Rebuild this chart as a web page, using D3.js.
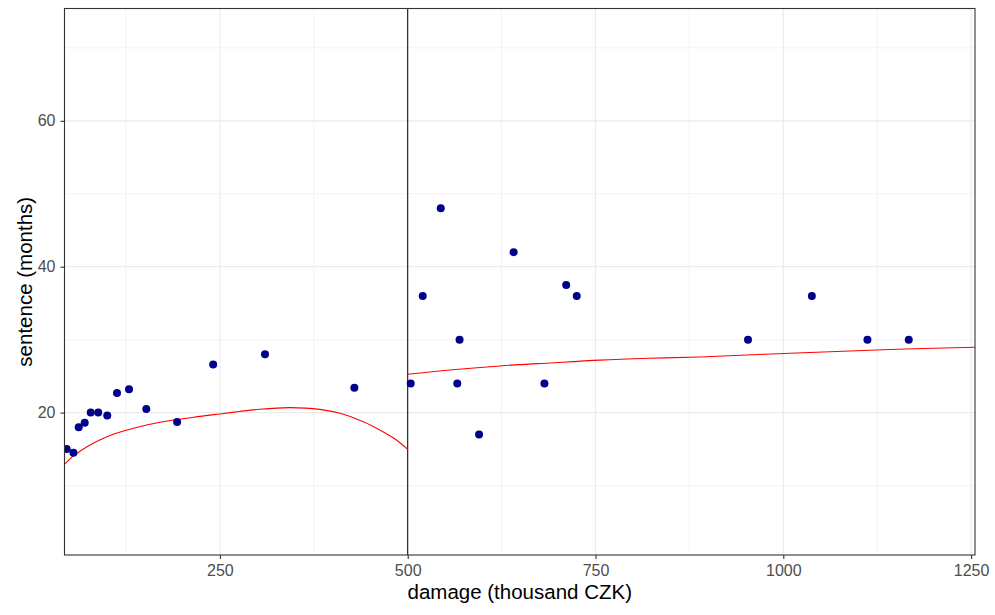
<html>
<head>
<style>
  body { margin: 0; background: #fff; }
  text { font-family: "Liberation Sans", Arial, sans-serif; }
</style>
</head>
<body>
<svg id="plot"></svg>
<script src="https://d3js.org/d3.v7.min.js"></script>
<script>

// observed cases: damage (thousand CZK) and sentence (months)
var damage = [46, 55, 62, 70, 78, 88, 100, 113, 129, 152, 193, 241, 310, 429,
              504, 520, 544, 566, 569, 595, 641, 682, 711, 725, 953, 1038, 1112, 1167];
var sentence = [15, 14.5, 18, 18.6, 20, 20, 19.6, 22.7, 23.2, 20.5, 18.7, 26.6, 28, 23.4,
                24, 36, 48, 24, 30, 17, 42, 24, 37.5, 36, 30, 36, 30, 30];

// fitted curve below the 500 threshold
var fitLeftX = [43, 55, 73, 90, 108, 135, 170, 215, 250, 276, 303, 343, 383, 410, 441, 467, 485, 500];
var fitLeftY = [12.9, 14.06, 15.33, 16.25, 17.03, 17.85, 18.68, 19.36, 19.82, 20.15, 20.46, 20.68, 20.45, 19.91, 18.76, 17.39, 16.25, 14.95];

// fitted curve above the threshold
var fitRightX = [500, 556, 623, 689, 756, 822, 889, 1009, 1142, 1255];
var fitRightY = [25.26, 25.85, 26.4, 26.81, 27.2, 27.45, 27.63, 28.14, 28.65, 28.96];

var threshold = 500;
var xTicks = [250, 500, 750, 1000, 1250];
var xMinor = [125, 375, 625, 875, 1125];
var yTicks = [20, 40, 60];
var yMinor = [10, 30, 50, 70];

var screen = {width: 995, height: 615};
var panel = {left: 64.5, right: 975, top: 8.5, bottom: 555};

var svg = d3.select("#plot")
    .attr("width", screen.width)
    .attr("height", screen.height);

var xScale = d3.scaleLinear()
    .domain([43.1, 1255.2])
    .range([panel.left, panel.right]);

var yScale = d3.scaleLinear()
    .domain([0.48, 75.4])
    .range([panel.bottom, panel.top]);

svg.append("rect")
    .attr("x", panel.left).attr("y", panel.top)
    .attr("width", panel.right - panel.left)
    .attr("height", panel.bottom - panel.top)
    .attr("fill", "white");

svg.append("clipPath").attr("id", "clip")
    .append("rect")
    .attr("x", panel.left).attr("y", panel.top)
    .attr("width", panel.right - panel.left)
    .attr("height", panel.bottom - panel.top);

var grid = svg.append("g").classed("grid", true);

// minor grid
grid.selectAll(".xminor").data(xMinor).enter().append("line")
    .attr("x1", function(d){ return xScale(d); })
    .attr("x2", function(d){ return xScale(d); })
    .attr("y1", panel.top).attr("y2", panel.bottom)
    .attr("stroke", "#ebebeb").attr("stroke-width", 0.6);

grid.selectAll(".yminor").data(yMinor).enter().append("line")
    .attr("y1", function(d){ return yScale(d); })
    .attr("y2", function(d){ return yScale(d); })
    .attr("x1", panel.left).attr("x2", panel.right)
    .attr("stroke", "#ebebeb").attr("stroke-width", 0.6);

// major grid
grid.selectAll(".xmajor").data(xTicks).enter().append("line")
    .attr("x1", function(d){ return xScale(d); })
    .attr("x2", function(d){ return xScale(d); })
    .attr("y1", panel.top).attr("y2", panel.bottom)
    .attr("stroke", "#ebebeb").attr("stroke-width", 1.2);

grid.selectAll(".ymajor").data(yTicks).enter().append("line")
    .attr("y1", function(d){ return yScale(d); })
    .attr("y2", function(d){ return yScale(d); })
    .attr("x1", panel.left).attr("x2", panel.right)
    .attr("stroke", "#ebebeb").attr("stroke-width", 1.2);

var g = svg.append("g").attr("clip-path", "url(#clip)");

// threshold line
g.append("line")
    .attr("x1", xScale(threshold)).attr("x2", xScale(threshold))
    .attr("y1", panel.top).attr("y2", panel.bottom)
    .attr("stroke", "black").attr("stroke-width", 1);

var line = d3.line()
    .x(function(d){ return xScale(d[0]); })
    .y(function(d){ return yScale(d[1]); })
    .curve(d3.curveCatmullRom);

g.append("path")
    .attr("d", line(d3.zip(fitLeftX, fitLeftY)))
    .attr("fill", "none").attr("stroke", "red").attr("stroke-width", 1.1);

g.append("path")
    .attr("d", line(d3.zip(fitRightX, fitRightY)))
    .attr("fill", "none").attr("stroke", "red").attr("stroke-width", 1.1);

g.selectAll("circle")
    .data(d3.zip(damage, sentence))
    .enter().append("circle")
    .attr("cx", function(d){ return xScale(d[0]); })
    .attr("cy", function(d){ return yScale(d[1]); })
    .attr("r", 4)
    .attr("fill", "darkblue");

// panel border
svg.append("rect")
    .attr("x", panel.left).attr("y", panel.top)
    .attr("width", panel.right - panel.left)
    .attr("height", panel.bottom - panel.top)
    .attr("fill", "none").attr("stroke", "#333333").attr("stroke-width", 1.1);

// axes
var xAxis = d3.axisBottom(xScale).tickValues(xTicks).tickSize(4).tickPadding(6).tickFormat(d3.format("d"));
var yAxis = d3.axisLeft(yScale).tickValues(yTicks).tickSize(4).tickPadding(5).tickFormat(d3.format("d"));

var xg = svg.append("g")
    .attr("transform", "translate(0," + panel.bottom + ")")
    .call(xAxis);
var yg = svg.append("g")
    .attr("transform", "translate(" + panel.left + ",0)")
    .call(yAxis);

[xg, yg].forEach(function(a)
{
    a.select(".domain").remove();
    a.selectAll(".tick line").attr("stroke", "#333333").attr("stroke-width", 1.1);
    a.selectAll(".tick text")
        .attr("fill", "#4d4d4d")
        .style("font-size", "16px")
        .style("font-family", "'Liberation Sans', Arial, sans-serif");
});

// labels
svg.append("text")
    .text("damage (thousand CZK)")
    .attr("x", (panel.left + panel.right) / 2)
    .attr("y", 599)
    .attr("text-anchor", "middle")
    .style("font-size", "20.5px")
    .attr("fill", "black");

svg.append("g")
    .attr("transform", "translate(32," + ((panel.top + panel.bottom) / 2) + ")")
    .append("text")
    .text("sentence (months)")
    .attr("transform", "rotate(-90)")
    .attr("text-anchor", "middle")
    .style("font-size", "20.5px")
    .attr("fill", "black");

</script>
</body>
</html>
